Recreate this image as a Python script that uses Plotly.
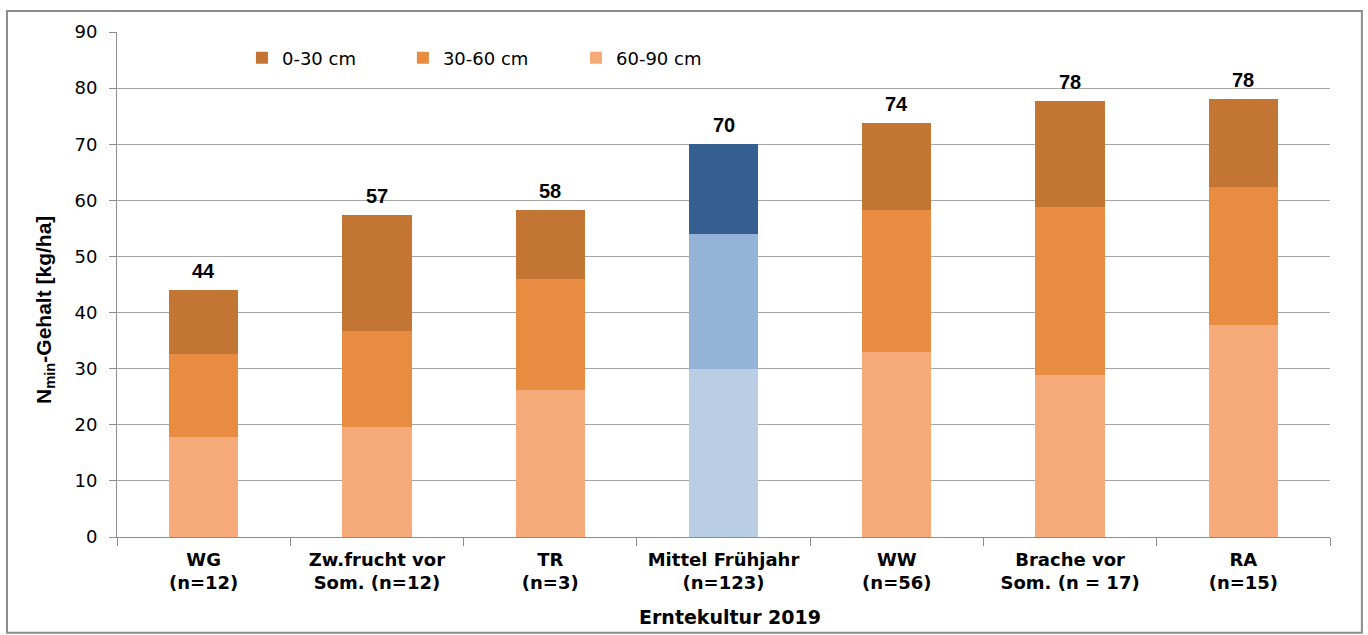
import plotly.graph_objects as go

# Categories (harvest crop 2019, with sample counts)
categories = [
    "WG<br>(n=12)",
    "Zw.frucht vor<br>Som. (n=12)",
    "TR<br>(n=3)",
    "Mittel Frühjahr<br>(n=123)",
    "WW<br>(n=56)",
    "Brache vor<br>Som. (n = 17)",
    "RA<br>(n=15)",
]

# Nmin content per soil layer [kg/ha]
layer_60_90 = [17.8, 19.6, 26.2, 30.0, 33.0, 28.9, 37.8]
layer_30_60 = [14.8, 17.1, 19.8, 24.0, 25.3, 29.9, 24.6]
layer_0_30 = [11.4, 20.6, 12.3, 16.0, 15.4, 18.9, 15.7]

# Colours: orange shades, the spring mean bar in blue shades
orange = {"0-30 cm": "#C37634", "30-60 cm": "#E88C42", "60-90 cm": "#F7AA79"}
blue = {"0-30 cm": "#355F91", "30-60 cm": "#95B3D7", "60-90 cm": "#B9CDE5"}
highlight = "Mittel Frühjahr<br>(n=123)"

values = {"0-30 cm": layer_0_30, "30-60 cm": layer_30_60, "60-90 cm": layer_60_90}

SANS = "DejaVu Sans, Verdana, sans-serif"
ARIAL = "Liberation Sans, Arial, sans-serif"

# one legend per layer so every entry can sit in its own spot along the top
legend_ids = {"0-30 cm": "legend", "30-60 cm": "legend2", "60-90 cm": "legend3"}
legend_x = {"legend": 0.1030, "legend2": 0.2357, "legend3": 0.3784}

fig = go.Figure()
# Stack from bottom (60-90) to top (0-30)
for name in ["60-90 cm", "30-60 cm", "0-30 cm"]:
    colors = [blue[name] if c == highlight else orange[name] for c in categories]
    fig.add_trace(go.Bar(
        x=categories, y=values[name], name=name,
        marker=dict(color=colors, line=dict(width=0)),
        width=0.4, legend=legend_ids[name],
    ))

totals = [a + b + c for a, b, c in zip(layer_0_30, layer_30_60, layer_60_90)]
for cat, tot in zip(categories, totals):
    fig.add_annotation(
        x=cat, y=tot, text=f"<b>{tot:.0f}</b>", showarrow=False,
        yanchor="bottom", yshift=6,
        font=dict(family=ARIAL, size=20, color="#000000"),
    )

# Axis titles
fig.add_annotation(
    xref="paper", yref="paper", x=-0.0594, y=0.4495,
    text="<b>N<sub>min</sub>-Gehalt [kg/ha]</b>", textangle=-90, showarrow=False,
    xanchor="center", yanchor="middle",
    font=dict(family=ARIAL, size=21, color="#000000"),
)
fig.add_annotation(
    xref="paper", yref="paper", x=0.5054, y=-0.159,
    text="<b>Erntekultur 2019</b>", showarrow=False,
    xanchor="center", yanchor="middle",
    font=dict(family=SANS, size=19, color="#000000"),
)

# Outer frame around the whole chart
fig.add_shape(type="rect", xref="paper", yref="paper",
              x0=-0.0907, x1=1.0263, y0=-0.1895, y1=1.0416,
              line=dict(color="#8C8C8C", width=2), fillcolor="rgba(0,0,0,0)", layer="below")

legend_common = dict(
    orientation="h", y=0.985, xanchor="left", yanchor="top",
    font=dict(family=SANS, size=18, color="#000000"), bgcolor="rgba(0,0,0,0)",
)

fig.update_layout(
    barmode="stack",
    width=1368, height=635,
    margin=dict(l=117, r=38, t=32, b=98),
    paper_bgcolor="white", plot_bgcolor="white",
    font=dict(family=SANS, size=18, color="#000000"),
    legend=dict(x=legend_x["legend"], **legend_common),
    legend2=dict(x=legend_x["legend2"], **legend_common),
    legend3=dict(x=legend_x["legend3"], **legend_common),
    showlegend=True,
)

fig.update_yaxes(
    range=[0, 90], dtick=10,
    showgrid=True, gridcolor="#A6A6A6", gridwidth=1,
    showline=True, linecolor="#8C8C8C", linewidth=1,
    ticks="outside", ticklen=7, tickcolor="#8C8C8C",
    ticklabelstandoff=8,
    tickfont=dict(family=SANS, size=18, color="#000000"),
    zeroline=False,
)
fig.update_xaxes(
    showline=True, linecolor="#8C8C8C", linewidth=1,
    ticks="outside", tickson="boundaries", ticklen=8, tickcolor="#8C8C8C",
    ticklabelstandoff=6,
    tickfont=dict(family=SANS, size=18, color="#000000"),
    tickvals=categories, ticktext=[f"<b>{c}</b>" for c in categories],
)

fig.write_html("out.html")
